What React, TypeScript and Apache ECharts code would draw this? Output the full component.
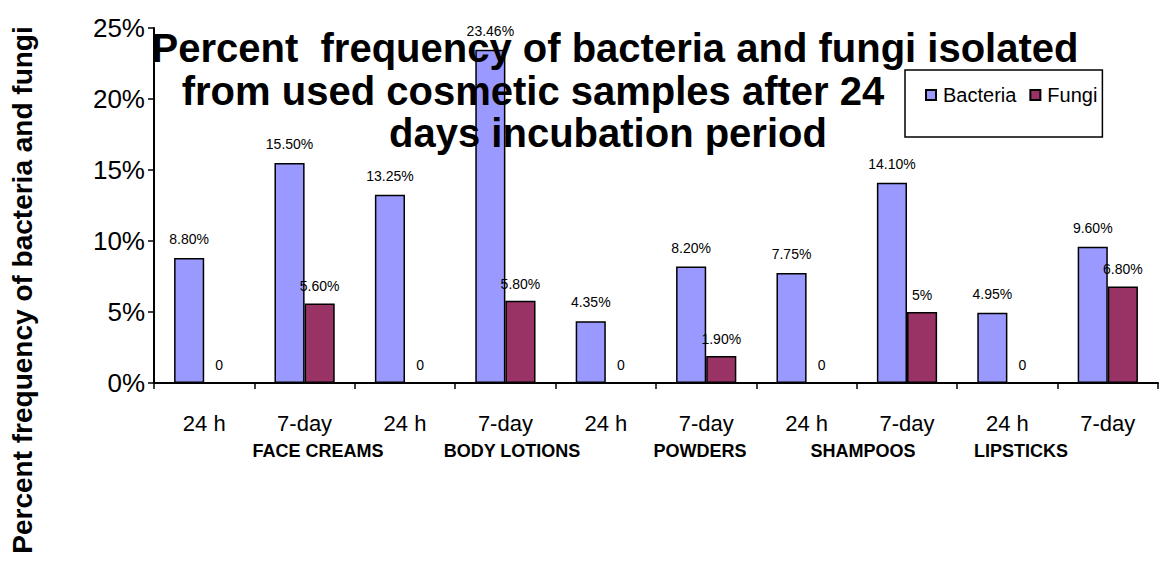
import React, { useEffect, useRef } from "react";
import * as echarts from "echarts";

const categories = ["24 h", "7-day", "24 h", "7-day", "24 h", "7-day", "24 h", "7-day", "24 h", "7-day"];
const groups = ["FACE CREAMS", "BODY LOTIONS", "POWDERS", "SHAMPOOS", "LIPSTICKS"];
const bacteria = [8.8, 15.5, 13.25, 23.46, 4.35, 8.2, 7.75, 14.1, 4.95, 9.6];
const fungi = [0, 5.6, 0, 5.8, 0, 1.9, 0, 5, 0, 6.8];
const bacteriaLabels = ["8.80%", "15.50%", "13.25%", "23.46%", "4.35%", "8.20%", "7.75%", "14.10%", "4.95%", "9.60%"];
const fungiLabels = ["0", "5.60%", "0", "5.80%", "0", "1.90%", "0", "5%", "0", "6.80%"];
const yTicks = [0, 5, 10, 15, 20, 25];
const titleLines = [
  "Percent  frequency of bacteria and fungi isolated",
  "from used cosmetic samples after 24",
  "days incubation period",
];
const groupLabelX = [318, 512, 700, 863, 1021];
const titleX = [615, 533, 608];
const titleY = [48, 91, 133];

const FONT = "'Liberation Sans', Arial, sans-serif";

export default function App() {
  const ref = useRef<HTMLDivElement>(null);
  useEffect(() => {
    if (!ref.current) return;
    const chart = echarts.init(ref.current, undefined, { renderer: "svg" });
    const graphics: any[] = [];
    titleLines.forEach((t, i) => {
      graphics.push({
        type: "text",
        x: titleX[i],
        y: titleY[i],
        z: 50,
        style: {
          text: t,
          font: `bold 40px ${FONT}`,
          fill: "#000",
          textAlign: "center",
          textVerticalAlign: "middle",
        },
      });
    });
    groups.forEach((g, i) => {
      graphics.push({
        type: "text",
        x: groupLabelX[i],
        y: 451,
        style: {
          text: g,
          font: `bold 18px ${FONT}`,
          fill: "#000",
          textAlign: "center",
          textVerticalAlign: "middle",
        },
      });
    });
    graphics.push({
      type: "text",
      x: 22,
      y: 290,
      rotation: Math.PI / 2,
      style: {
        text: "Percent frequency of bacteria and fungi",
        font: `bold 28px ${FONT}`,
        fill: "#000",
        textAlign: "center",
        textVerticalAlign: "middle",
      },
    });
    chart.setOption({
      animation: false,
      textStyle: { fontFamily: FONT },
      grid: { left: 154, right: 10, top: 28, bottom: 201, containLabel: false },
      legend: {
        left: 905,
        top: 70,
        z: 100,
        padding: [15, 5, 32, 20],
        backgroundColor: "#fff",
        borderColor: "#000",
        borderWidth: 1.5,
        borderRadius: 0,
        itemWidth: 10,
        itemHeight: 10,
        itemGap: 13,
        icon: "rect",
        textStyle: { fontSize: 20, color: "#000", fontFamily: FONT, padding: [0, 0, 0, 2] },
        data: ["Bacteria", "Fungi"],
      },
      xAxis: {
        type: "category",
        data: categories,
        axisLine: { lineStyle: { color: "#000", width: 2 } },
        axisTick: { show: true, length: 6, lineStyle: { color: "#000", width: 1.5 } },
        axisLabel: { color: "#000", fontSize: 22, margin: 29, fontFamily: FONT },
      },
      yAxis: {
        type: "value",
        min: 0,
        max: 25,
        interval: 5,
        splitLine: { show: false },
        axisLine: { show: true, lineStyle: { color: "#000", width: 2 } },
        axisTick: { show: true, length: 6, lineStyle: { color: "#000", width: 1.5 } },
        axisLabel: {
          color: "#000",
          fontSize: 26,
          margin: 9,
          fontFamily: FONT,
          formatter: (v: number) => (yTicks.includes(v) ? `${v}%` : ""),
        },
      },
      series: [
        {
          name: "Bacteria",
          type: "bar",
          data: bacteria,
          barCategoryGap: "40%",
          barGap: "0%",
          itemStyle: { color: "#9999FF", borderColor: "#000", borderWidth: 1.5 },
          label: {
            show: true,
            position: "top",
            distance: 12,
            color: "#000",
            fontSize: 14,
            fontFamily: FONT,
            formatter: (p: any) => bacteriaLabels[p.dataIndex],
          },
        },
        {
          name: "Fungi",
          type: "bar",
          data: fungi,
          barCategoryGap: "40%",
          barGap: "0%",
          itemStyle: { color: "#993366", borderColor: "#000", borderWidth: 1.5 },
          label: {
            show: true,
            position: "top",
            distance: 10,
            color: "#000",
            fontSize: 14,
            fontFamily: FONT,
            formatter: (p: any) => fungiLabels[p.dataIndex],
          },
        },
      ],
      graphic: graphics,
    });
    return () => chart.dispose();
  }, []);
  return <div ref={ref} style={{ width: 1168, height: 584, position: "absolute", left: 0, top: 0 }} />;
}
